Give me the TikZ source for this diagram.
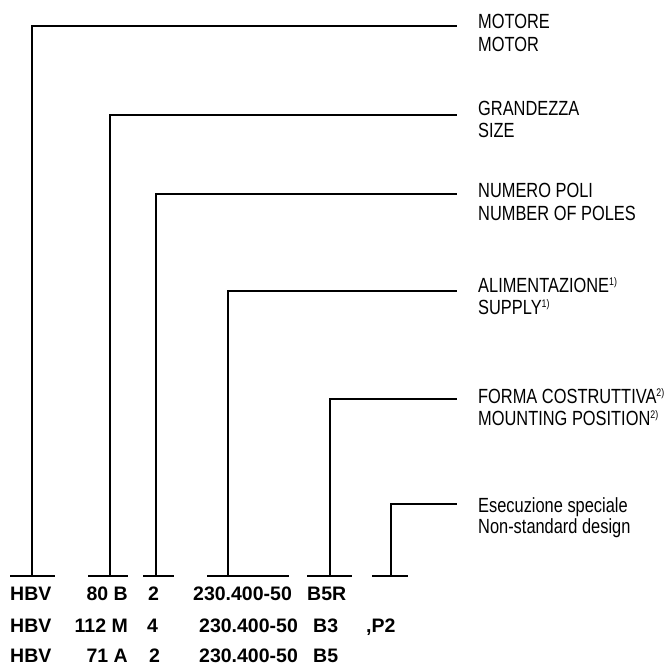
\documentclass[tikz,border=0pt]{standalone}
\usepackage{fontspec}
\setmainfont{Liberation Sans}
\newfontfamily\labfont[FakeStretch=0.80]{Liberation Sans}
\newcommand\mysup[1]{\raisebox{6.5pt}{\fontsize{11}{11}\selectfont #1}}
\begin{document}
\begin{tikzpicture}[x=1pt,y=-1pt,
  lbl/.style={anchor=base west,inner sep=0pt,font=\labfont\fontsize{20.5}{23}\selectfont},
  cw/.style={anchor=base west,inner sep=0pt,font=\bfseries\fontsize{19.5}{22}\selectfont},
  ce/.style={anchor=base east,inner sep=0pt,font=\bfseries\fontsize{19.5}{22}\selectfont},
  wire/.style={line width=1.1pt,black}]
\useasboundingbox (0,0) rectangle (669,664);
% bars
\foreach \n/\a/\m/\b/\h in {1/10/32/55/26, 2/88/110/128/115, 3/143/156/174/194, 4/207/228/289/291, 5/307/330/352/399, 6/372/391/408/504}{
  \coordinate (bl\n) at (\a,576);
  \coordinate (bm\n) at (\m,576);
  \coordinate (br\n) at (\b,576);
  \coordinate (e\n) at (457,\h);
}
% labels
\node[lbl] (l1a) at (478,28) {MOTORE};
\node[lbl] (l1b) at (478,51) {MOTOR};
\node[lbl] (l2a) at (478,115) {GRANDEZZA};
\node[lbl] (l2b) at (478,137) {SIZE};
\node[lbl] (l3a) at (478,197) {NUMERO POLI};
\node[lbl] (l3b) at (478,220) {NUMBER OF POLES};
\node[lbl] (l4a) at (478,292) {ALIMENTAZIONE\mysup{1)}};
\node[lbl] (l4b) at (478,314) {SUPPLY\mysup{1)}};
\node[lbl] (l5a) at (478,403) {FORMA COSTRUTTIVA\mysup{2)}};
\node[lbl] (l5b) at (478,425) {MOUNTING POSITION\mysup{2)}};
\node[lbl] (l6a) at (478,512) {Esecuzione speciale};
\node[lbl] (l6b) at (478,533) {Non-standard design};
% connectors
\foreach \n in {1,...,6}{
  \draw[wire] (bl\n) -- (br\n);
  \draw[wire] (bm\n) |- (e\n);
}
% code rows
\node[cw] (r1a) at (10,600) {HBV};
\node[ce] (r1b) at (128,600) {80 B};
\node[cw] (r1c) at (148,600) {2};
\node[cw] (r1d) at (193,600) {230.400-50};
\node[cw] (r1e) at (307,600) {B5R};
\node[cw] (r2a) at (10,632) {HBV};
\node[ce] (r2b) at (128,632) {112 M};
\node[cw] (r2c) at (147,632) {4};
\node[cw] (r2d) at (199,632) {230.400-50};
\node[cw] (r2e) at (313,632) {B3};
\node[cw] (r2f) at (366,632) {,P2};
\node[cw] (r3a) at (10,662) {HBV};
\node[ce] (r3b) at (128,662) {71 A};
\node[cw] (r3c) at (149,662) {2};
\node[cw] (r3d) at (199,662) {230.400-50};
\node[cw] (r3e) at (313,662) {B5};
\end{tikzpicture}
\end{document}
